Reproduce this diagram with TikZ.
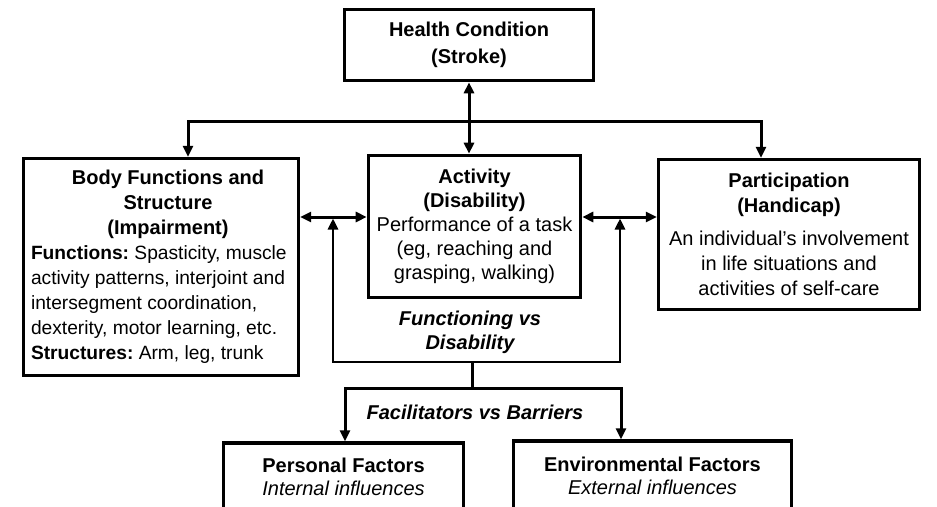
\documentclass[tikz,border=0pt]{standalone}
\usepackage{fontspec}
\setmainfont{Liberation Sans}
\usetikzlibrary{arrows.meta}
\frenchspacing

\begin{document}
\begin{tikzpicture}[x=1pt, y=-1pt, >={Triangle[length=11pt,width=10pt]}, line width=3pt,
    box/.style={draw, line width=3.4pt, inner sep=4pt, align=center, font=\fontsize{20}{24}\selectfont},
    lbl/.style={align=center, font=\fontsize{20}{24}\selectfont\bfseries\itshape}]
    \useasboundingbox (0,0) rectangle (937,506);
    \clip (0,0) rectangle (937,506);

    \node[box, line width=3.6pt, minimum width=249pt, minimum height=71pt, font=\fontsize{20}{27}\selectfont\bfseries] (health) at (469,45) {Health Condition\\(Stroke)};
    \node[box, minimum width=275pt, minimum height=217pt, text width=260pt, align=left, font=\fontsize{20}{25}\selectfont] (body) at (161,267)
        {\spaceskip=0pt\xspaceskip=0pt
        {\centering\bfseries\hspace*{14pt}Body Functions and\\\hspace*{14pt}Structure\\\hspace*{14pt}(Impairment)\par}
        \raggedright\fontsize{19.2}{25}\selectfont\textbf{Functions:} Spasticity, muscle\\activity patterns, interjoint and\\intersegment coordination,\\dexterity, motor learning, etc.\\\textbf{Structures:} Arm, leg, trunk};
    \node[box, line width=3.6pt, minimum width=212pt, minimum height=142pt] (act) at (474.5,226.5) {\textbf{Activity}\\\textbf{(Disability)}\\Performance of a task\\(eg, reaching and\\grasping, walking)};
    \node[box, minimum width=261pt, minimum height=150pt, font=\fontsize{20}{25}\selectfont] (part) at (789,234.5) {\textbf{Participation}\\\textbf{(Handicap)}\\[8pt]An individual’s involvement\\in life situations and\\activities of self-care};
    \node[box, minimum width=240pt, minimum height=68pt, font=\fontsize{20}{23}\selectfont] (pers) at (343.5,477) {\textbf{Personal Factors}\\\textit{Internal influences}};
    \node[box, minimum width=278pt, minimum height=70pt, font=\fontsize{20}{23}\selectfont] (env) at (652.5,476) {\textbf{Environmental Factors}\\\textit{External influences}};

    \node[lbl] (func) at (470,332) {Functioning vs\\Disability};
    \node[lbl] (facil) at (475,412) {Facilitators vs Barriers};

    \coordinate (topl) at (188,121);
    \coordinate (topr) at (761,121);
    \coordinate (mid) at (0,217);
    \coordinate (fbl) at (333,362);
    \coordinate (fbr) at (620,362);
    \coordinate (fork) at (472,388);
    \coordinate (forkl) at (345,388);
    \coordinate (forkr) at (621,388);

    \draw[<->] (health.south) -- (health.south |- act.north);
    \draw[<->] (body.north -| topl) -- (topl) -- (topr) -- (part.north -| topr);
    \draw[<->] (body.east |- mid) -- (act.west |- mid);
    \draw[<->] (act.east |- mid) -- (part.west |- mid);
    \draw[<->, line width=2.7pt, shorten <=1.5pt, shorten >=1.5pt] (fbl |- mid) -- (fbl) -- (fbr) -- (fbr |- mid);
    \draw (fork |- fbl) -- (fork);
    \draw[<->] (pers.north -| forkl) -- (forkl) -- (forkr) -- (env.north -| forkr);
\end{tikzpicture}
\end{document}
